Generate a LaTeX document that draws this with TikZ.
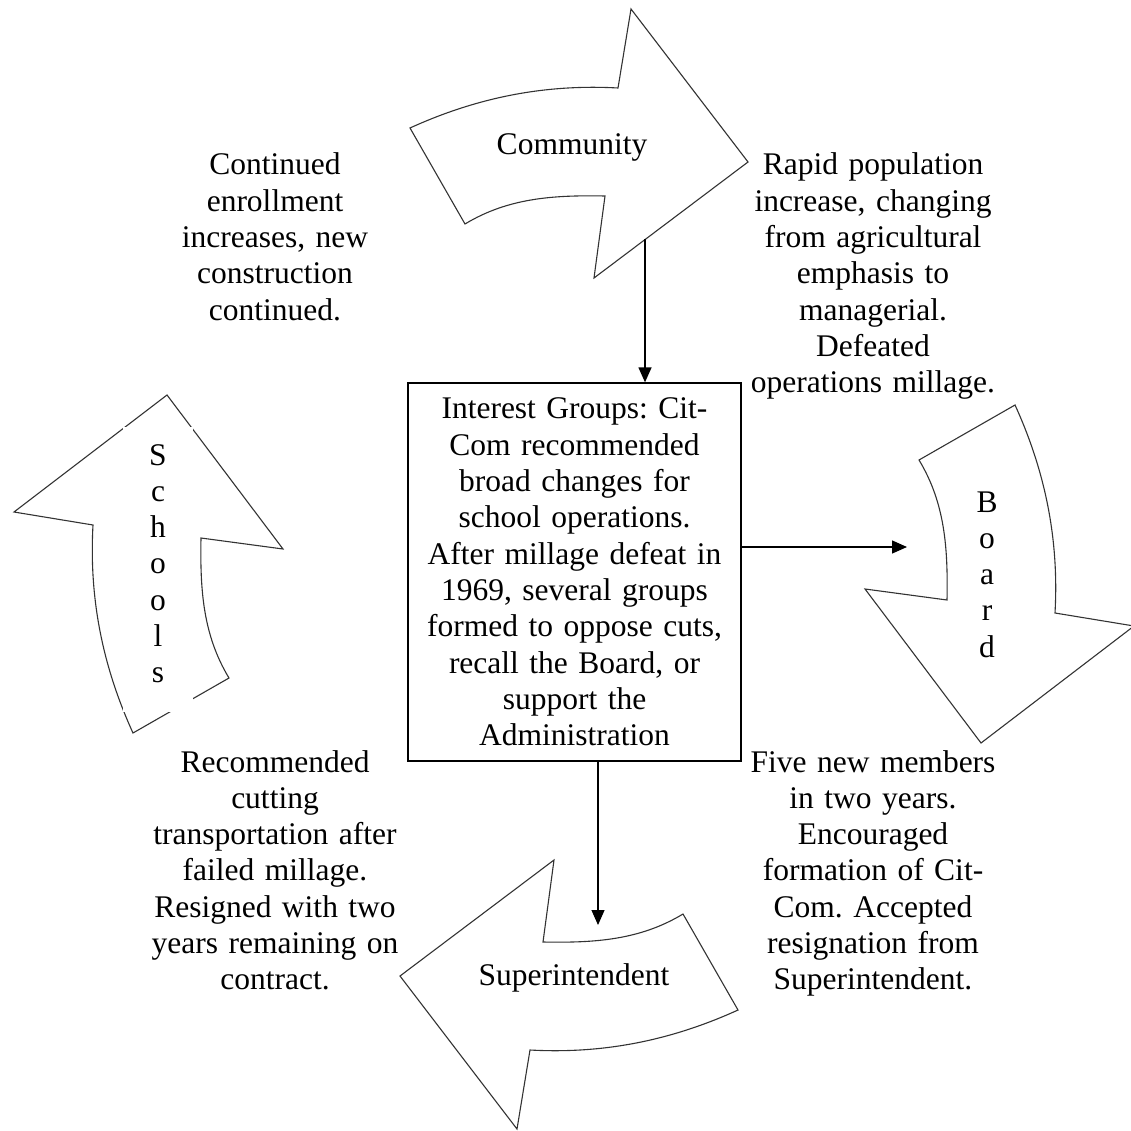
\documentclass[tikz,border=0pt]{standalone}
\usepackage{fontspec}
\setmainfont{Liberation Serif}
\usetikzlibrary{arrows.meta}
\frenchspacing
\begin{document}
\begin{tikzpicture}[x=1pt,y=-1pt,
  outline/.style={draw=black!80, line width=1.1pt, line join=miter, fill=white},
  conn/.style={draw=black, line width=1.3pt, -{Triangle[length=15pt,width=13pt]}},
  words/.style={font=\fontsize{31.5}{36.3}\selectfont, align=center, text width=330pt, inner sep=0pt, anchor=base},
  bent/.pic={
    \path[outline] (-164,-441) .. controls (-96,-472) and (-28,-485) .. (44,-481)
      -- (57,-560) -- (174,-407) -- (20,-291) -- (31,-373)
      .. controls (-21,-374) and (-66,-371) .. (-109,-345) -- cycle;
  },
]
\fill[white] (0,0) rectangle (1130,1131);
\useasboundingbox (0,0) rectangle (1130,1131);

% four bent arrows turning round the centre of the cycle
\pic at (574,569) {bent};
\pic[rotate=-90] at (574,569) {bent};
\pic[rotate=180] at (574,569) {bent};
\pic[rotate=90] at (574,569) {bent};

% arrow labels
\node[words] (community) at (572,155) {Community};
\node[words] (superintendent) at (574,985) {Superintendent};
\fill[white] (123,427) rectangle (193,712);
\node[words] (schools) at (158,465) {S\\c\\h\\o\\o\\l\\s};
\node[words] (board) at (987,512) {B\\o\\a\\r\\d};

% central box
\node[draw, line width=1.3pt, minimum width=333pt, minimum height=378pt, inner sep=0pt,
      align=center, text width=320pt, font=\fontsize{31.5}{36.3}\selectfont] (groups) at (574.5,572)
  {Interest Groups: Cit-\\Com recommended\\broad changes for\\school operations.\\After millage defeat in\\1969, several groups\\formed to oppose cuts,\\recall the Board, or\\support the\\Administration};

% connectors
\coordinate (cfoot) at (645,239);
\draw[conn] (cfoot) -- (cfoot |- groups.north);
\coordinate (btip) at (907,547);
\draw[conn] (groups.east |- btip) -- (btip);
\coordinate (stip) at (598,925);
\draw[conn] (stip |- groups.south) -- (stip);

% notes between the arrows
\node[words] (enroll) at (275,175) {Continued\\enrollment\\increases, new\\construction\\continued.};
\node[words] (growth) at (873,175) {Rapid population\\increase, changing\\from agricultural\\emphasis to\\managerial.\\Defeated\\operations millage.};
\node[words] (resign) at (275,772) {Recommended\\cutting\\transportation after\\failed millage.\\Resigned with two\\years remaining on\\contract.};
\node[words] (members) at (873,772) {Five new members\\in two years.\\Encouraged\\formation of Cit-\\Com. Accepted\\resignation from\\Superintendent.};
\end{tikzpicture}
\end{document}
